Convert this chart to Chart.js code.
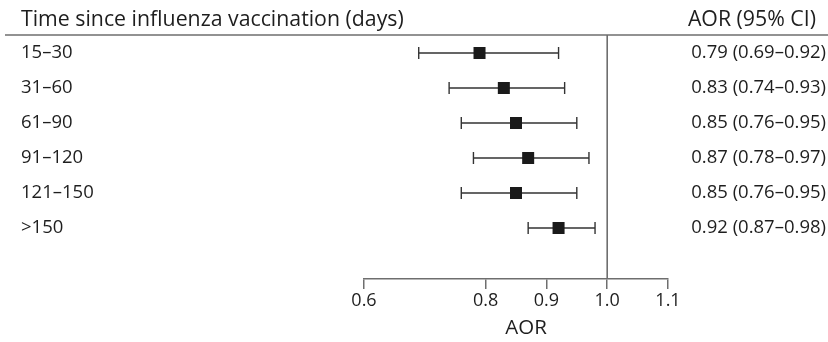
<!DOCTYPE html>
<html>
<head>
<meta charset="utf-8">
<script src="https://cdn.jsdelivr.net/npm/chart.js@4"></script>
<style>
  html, body { margin: 0; padding: 0; background: #fff; }
  #wrap { width: 828px; height: 342px; position: relative; }
</style>
</head>
<body>
<div id="wrap"><canvas id="c" width="828" height="342"></canvas></div>
<script>
// ---- data ----
const rowLabels = ['15–30', '31–60', '61–90', '91–120', '121–150', '>150'];
const aorValues = [0.79, 0.83, 0.85, 0.87, 0.85, 0.92];
const ciLower   = [0.69, 0.74, 0.76, 0.78, 0.76, 0.87];
const ciUpper   = [0.92, 0.93, 0.95, 0.97, 0.95, 0.98];
const xTickValues = [0.6, 0.8, 0.9, 1.0, 1.1];
const referenceValue = 1.0;
const headerLeft = 'Time since influenza vaccination (days)';
const headerRight = 'AOR (95% CI)';
const xAxisTitle = 'AOR';

const ciLabels = aorValues.map((v, i) =>
  `${v.toFixed(2)} (${ciLower[i].toFixed(2)}–${ciUpper[i].toFixed(2)})`);

const FONT = "'Open Sans', 'Noto Sans', sans-serif";
const TEXT = '#1e1e1e';
const GRAY = '#6e6e6e';

const Y_MIN = -0.514, Y_MAX = 6.457;

const pointData = aorValues.map((v, i) => ({ x: v, y: i }));
const ciData = [];
ciLower.forEach((lo, i) => {
  ciData.push({ x: lo, y: i }, { x: ciUpper[i], y: i }, { x: null, y: null });
});

const headerPlugin = {
  id: 'header',
  afterDraw(chart) {
    const ctx = chart.ctx;
    const top = chart.chartArea.top;
    ctx.save();
    ctx.strokeStyle = GRAY;
    ctx.lineWidth = 1.5;
    ctx.beginPath();
    ctx.moveTo(5, top);
    ctx.lineTo(828, top);
    ctx.stroke();
    ctx.fillStyle = TEXT;
    ctx.font = `21.3px ${FONT}`;
    ctx.textBaseline = 'alphabetic';
    ctx.textAlign = 'left';
    ctx.fillText(headerLeft, 21, 26);
    ctx.textAlign = 'right';
    ctx.fillText(headerRight, 816, 26);
    const xs = chart.scales.x;
    ctx.textAlign = 'center';
    ctx.font = `20.5px ${FONT}`;
    ctx.fillText(xAxisTitle, (xs.left + xs.right) / 2 + 10, 334);
    ctx.restore();
  }
};

new Chart(document.getElementById('c'), {
  data: {
    datasets: [
      {
        type: 'scatter',
        data: pointData,
        pointStyle: 'rect',
        pointRadius: 8.5,
        backgroundColor: '#1a1a1a',
        borderWidth: 0,
        order: 0
      },
      {
        type: 'line',
        data: ciData,
        spanGaps: false,
        borderColor: '#333',
        borderWidth: 1.4,
        pointStyle: 'line',
        pointRotation: 90,
        pointRadius: 6,
        pointBorderColor: '#333',
        pointBorderWidth: 1.4,
        order: 1
      },
      {
        type: 'line',
        data: [{ x: referenceValue, y: Y_MIN }, { x: referenceValue, y: Y_MAX }],
        borderColor: GRAY,
        borderWidth: 1.6,
        pointRadius: 0,
        order: 2
      }
    ]
  },
  options: {
    responsive: false,
    animation: false,
    events: [],
    layout: { padding: { top: 35, left: 21, right: 2, bottom: 0 } },
    plugins: { legend: { display: false }, tooltip: { enabled: false } },
    scales: {
      x: {
        type: 'linear',
        min: 0.6, max: 1.1,
        afterBuildTicks: s => { s.ticks = xTickValues.map(v => ({ value: v })); },
        afterFit: s => { s.height = 63; },
        ticks: {
          callback: v => Number(v).toFixed(1),
          font: { family: FONT, size: 18 },
          color: TEXT,
          padding: 1,
          maxRotation: 0
        },
        grid: { drawOnChartArea: false, drawTicks: true, tickLength: 10, color: GRAY, lineWidth: 1.5 },
        border: { display: true, color: GRAY, width: 1.5 }
      },
      y: {
        type: 'linear',
        position: 'left',
        reverse: true,
        min: Y_MIN, max: Y_MAX,
        afterBuildTicks: s => { s.ticks = rowLabels.map((_, i) => ({ value: i })); },
        afterFit: s => { s.width = 364 - 21; },
        ticks: {
          callback: v => rowLabels[v],
          crossAlign: 'far',
          font: { family: FONT, size: 18.5 },
          color: TEXT
        },
        grid: { display: false },
        border: { display: false }
      },
      y2: {
        type: 'linear',
        position: 'right',
        reverse: true,
        min: Y_MIN, max: Y_MAX,
        afterBuildTicks: s => { s.ticks = ciLabels.map((_, i) => ({ value: i })); },
        afterFit: s => { s.width = 826 - 668; },
        ticks: {
          callback: v => ciLabels[v],
          crossAlign: 'far',
          font: { family: FONT, size: 18.5 },
          color: TEXT
        },
        grid: { display: false },
        border: { display: false }
      }
    }
  },
  plugins: [headerPlugin]
});
</script>
</body>
</html>
